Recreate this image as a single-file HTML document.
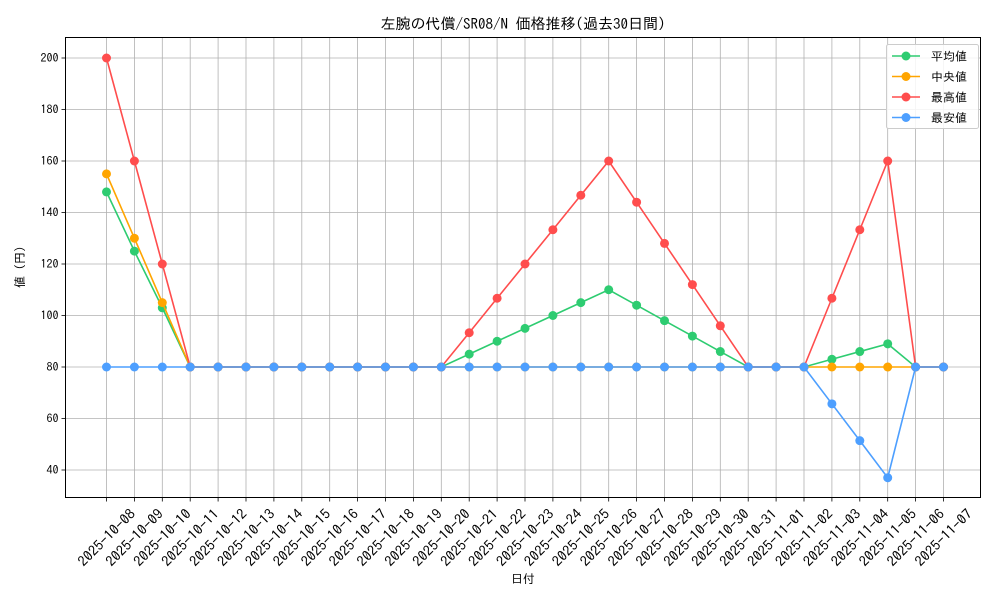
<!DOCTYPE html>
<html><head><meta charset="utf-8"><style>
html,body{margin:0;padding:0;background:#fff;}
svg text{font-family:"IPAGothic","Noto Sans CJK JP",sans-serif;fill:#000;}
</style></head><body>
<svg id="s" width="1000" height="600" xmlns="http://www.w3.org/2000/svg"></svg>
<script>
const s=document.getElementById('s');let h='';
const X0=106.5,DX=27.9,Y=v=>367-(v-80)*2.575;
const L=65.5,R=980.5,T=37.5,B=497.5;
const dates=[];for(let i=0;i<31;i++){const d=new Date(Date.UTC(2025,9,8+i));dates.push(d.toISOString().slice(0,10));}
h+=`<text x="523" y="29" font-size="15" text-anchor="middle">左腕の代償/SR08/N 価格推移(過去30日間)</text>`;
for(let i=0;i<31;i++){const x=X0+i*DX;h+=`<line x1="${x}" y1="${T}" x2="${x}" y2="${B}" stroke="#b0b0b0" stroke-width="0.8"/>`;
h+=`<line x1="${x}" y1="${B}" x2="${x}" y2="${B+4}" stroke="#000" stroke-width="0.8"/>`;
h+=`<text transform="translate(${x},${B+40}) rotate(-45)" font-size="14" dy="5" textLength="74" lengthAdjust="spacingAndGlyphs" text-anchor="middle">${dates[i]}</text>`;}
for(let v=40;v<=200;v+=20){const y=Y(v);h+=`<line x1="${L}" y1="${y}" x2="${R}" y2="${y}" stroke="#b0b0b0" stroke-width="0.8"/>`;
h+=`<line x1="${L-4}" y1="${y}" x2="${L}" y2="${y}" stroke="#000" stroke-width="0.8"/>`;
h+=`<text x="${L-7}" y="${y+4}" font-size="12" text-anchor="end">${v}</text>`;}
h+=`<rect x="${L}" y="${T}" width="${R-L}" height="${B-T}" fill="none" stroke="#000" stroke-width="1"/>`;
h+=`<text x="523" y="583" font-size="12" text-anchor="middle">日付</text>`;
h+=`<text transform="translate(24,267) rotate(-90)" font-size="12" text-anchor="middle">値 (円)</text>`;
const avg=[148,125,103,80,...Array(9).fill(80),85,90,95,100,105,110,104,98,92,86,80,80,80,83,86,89,80,80];
const med=[155,130,105,...Array(28).fill(80)];
const mx=[200,160,120,80,...Array(9).fill(80),93.3,106.7,120,133.3,146.7,160,144,128,112,96,80,80,80,106.7,133.3,160,80,80];
const mn=[...Array(26).fill(80),65.7,51.4,37,80,80];
const ser=[[avg,'#2ecc71'],[med,'#ffa500'],[mx,'#ff4d4d'],[mn,'#4d9fff']];
for(const [d,c] of ser){h+=`<polyline fill="none" stroke="${c}" stroke-width="1.6" points="${d.map((v,i)=>(X0+i*DX)+','+Y(v)).join(' ')}"/>`;
d.forEach((v,i)=>h+=`<circle cx="${X0+i*DX}" cy="${Y(v)}" r="4.5" fill="${c}"/>`);}
h+=`<rect x="886.5" y="44.5" width="92" height="84" rx="2" fill="#fff" fill-opacity="0.85" stroke="#ccc"/>`;
const names=['平均値','中央値','最高値','最安値'];
ser.forEach(([d,c],i)=>{const y=56+i*20.5;h+=`<line x1="892" y1="${y}" x2="920" y2="${y}" stroke="${c}" stroke-width="1.6"/><circle cx="906" cy="${y}" r="4.5" fill="${c}"/><text x="931" y="${y+4.5}" font-size="12">${names[i]}</text>`;});
s.innerHTML=h;
</script>
</body></html>
